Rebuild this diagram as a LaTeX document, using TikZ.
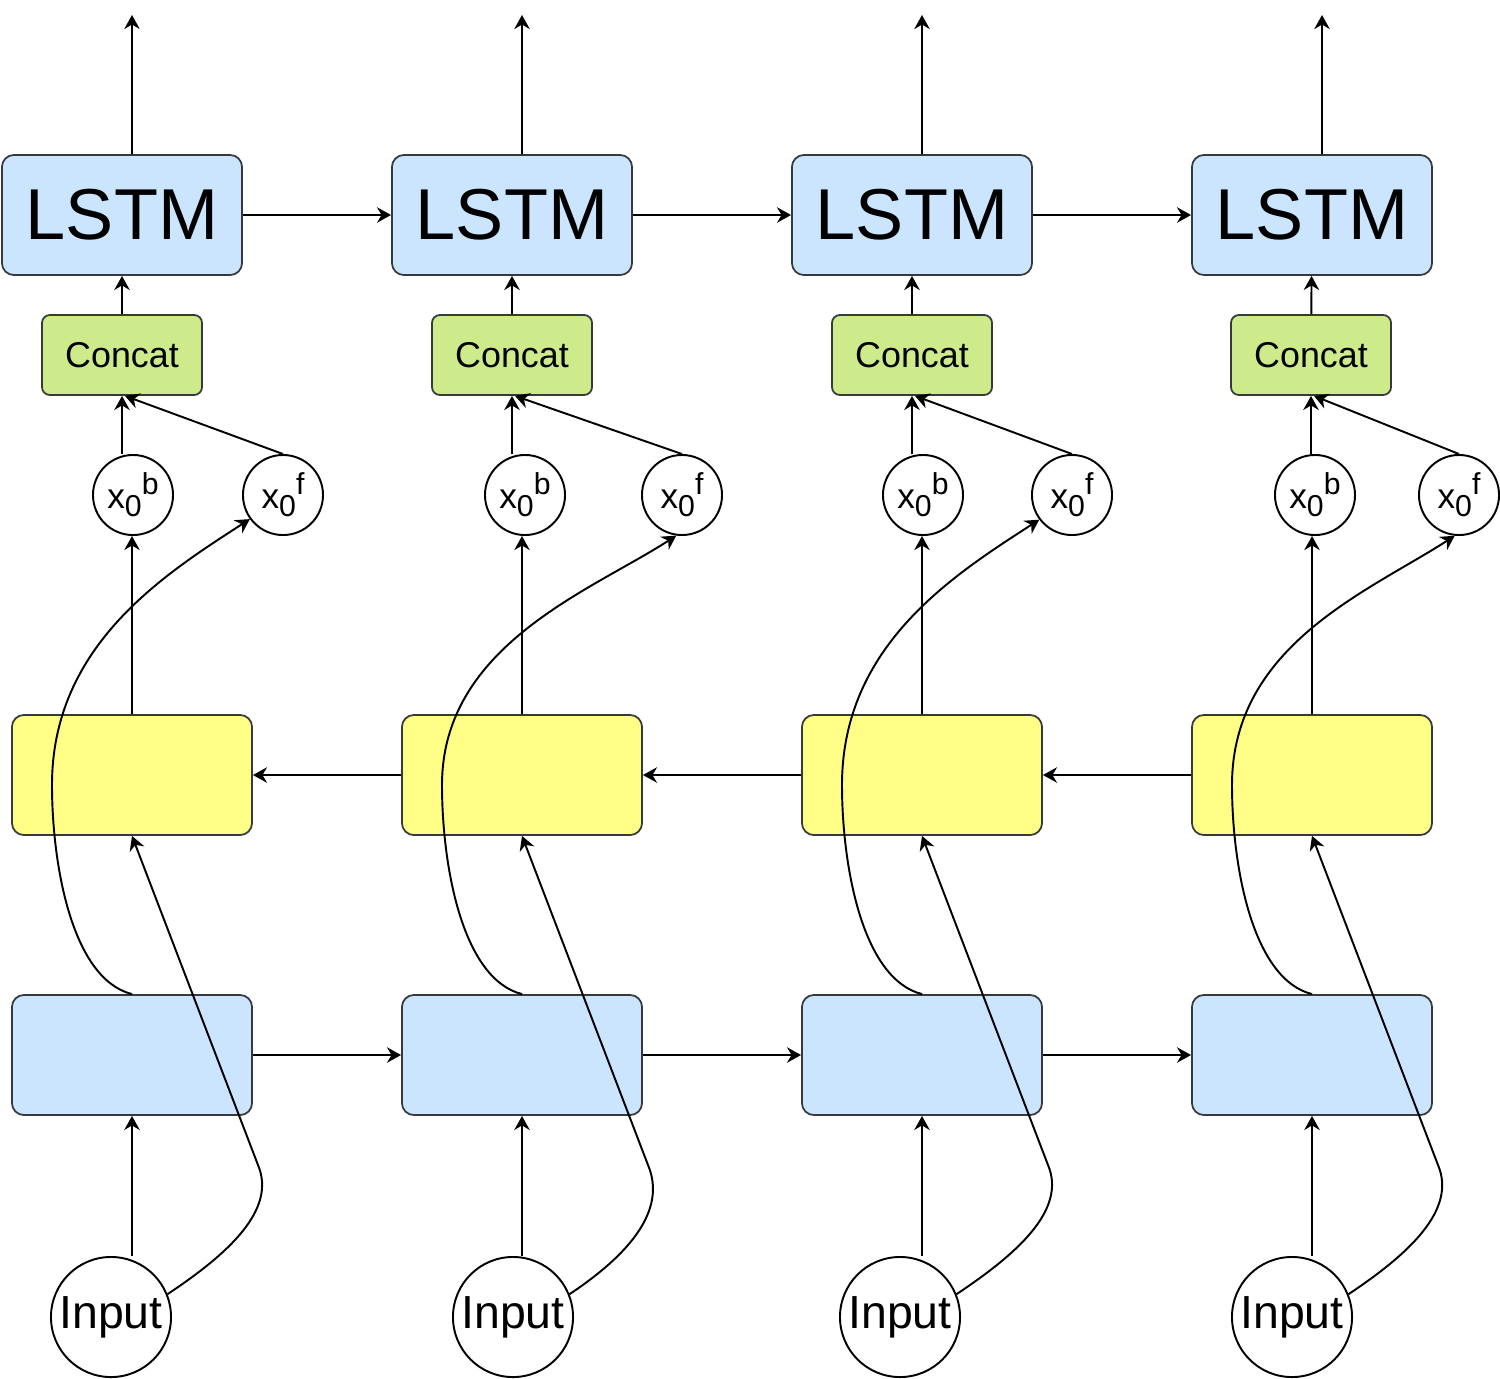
\documentclass[tikz,border=0pt]{standalone}
\usepackage{fontspec}
\setmainfont{Liberation Sans}
\usetikzlibrary{positioning, arrows.meta}
\definecolor{lstmblue}{HTML}{CCE5FF}
\definecolor{bwyellow}{HTML}{FFFF88}
\definecolor{catgreen}{HTML}{CDEB8B}
\definecolor{boxedge}{HTML}{36393D}
\newcommand{\xstate}[1]{x\raisebox{-0.45ex}{\fontsize{8.6}{9}\selectfont 0}\raisebox{0.75ex}{\fontsize{8.6}{9}\selectfont #1}}

\begin{document}
\begin{tikzpicture}[x=0.01cm, y=-0.01cm, line width=0.55pt,
    >={Stealth[length=4pt, width=4.4pt, inset=1.3pt]},
    cell/.style={draw=boxedge, line width=0.5pt, rounded corners=0.12cm, minimum width=2.4cm, minimum height=1.2cm, inner sep=0pt},
    catbox/.style={draw=boxedge, line width=0.5pt, fill=catgreen, rounded corners=0.08cm, minimum width=1.6cm, minimum height=0.8cm, inner sep=0pt, font=\fontsize{10.2}{12}\selectfont},
    hstate/.style={draw, circle, minimum size=0.8cm, inner sep=0pt, font=\fontsize{10}{11}\selectfont},
    inputnode/.style={draw, circle, minimum size=1.2cm, inner sep=0pt, font=\fontsize{13.2}{15}\selectfont}]
    \useasboundingbox (0,0) rectangle (1500,1378);
    % one column per time step
    \foreach \i/\lx/\cx/\bx/\fx/\ix/\yx/\a in {1/122/122/133/283/111/132/216, 2/512/512/525/682/513/522/262, 3/912/912/923/1072/900/922/217, 4/1312/1311/1315/1459/1292/1312/264} {
        \node[cell, fill=lstmblue, font=\fontsize{20.5}{24}\selectfont] (lstm\i) at (\lx,215) {LSTM};
        \node[catbox] (cat\i) at (\cx,355) {Concat};
        \node[hstate] (xb\i) at (\bx,495) {\xstate{b}};
        \node[hstate] (xf\i) at (\fx,495) {\xstate{f}};
        \node[cell, fill=bwyellow] (bw\i) at (\yx,775) {};
        \node[cell, fill=lstmblue] (fw\i) at (\yx,1055) {};
        \node[inputnode] (in\i) at (\ix,1317) {Input};
        \coordinate (out\i) at (\lx+10,15);
        \draw[->] ([xshift=0.1cm]lstm\i.north) -- (out\i);
        \draw[->] (cat\i) -- (lstm\i);
        \draw[->] (xb\i.north -| cat\i.south) -- (cat\i.south);
        \draw[->] (xf\i.north) -- ([xshift=0.03cm]cat\i.south);
        \draw[->] (bw\i.north) -- (bw\i.north |- xb\i.south);
        \draw[->] (in\i.north -| fw\i.south) -- (fw\i.south);
        \draw[->] (in\i.22) .. controls +(60,-40) and +(19,45) .. (\yx+126,1165) -- (bw\i.south);
        \draw[->] (fw\i.north) .. controls +(-60,-15) and +(0,80) .. (\yx-80,785) .. controls +(0,-140) and +(-85,55) .. (xf\i.\a);
    }
    % recurrent links
    \foreach \i/\j in {1/2, 2/3, 3/4} {
        \draw[->] (lstm\i) -- (lstm\j);
        \draw[->] (bw\j) -- (bw\i);
        \draw[->] (fw\i) -- (fw\j);
    }
\end{tikzpicture}
\end{document}
